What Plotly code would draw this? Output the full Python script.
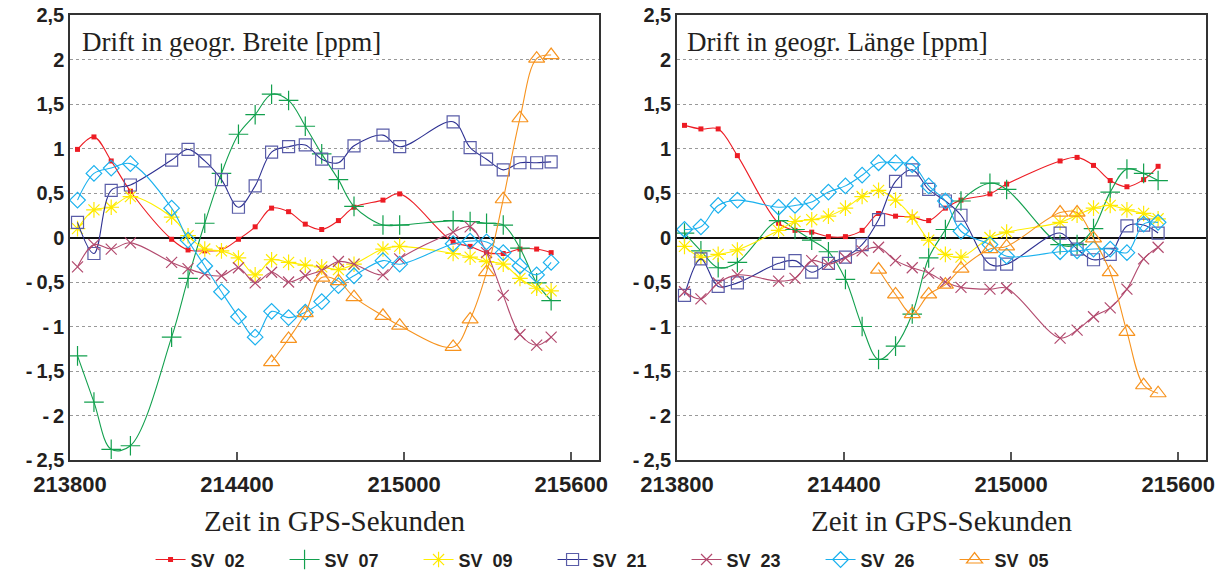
import plotly.graph_objects as go

# GPS epochs (seconds of week) shared by all satellites
t_gps = [213827, 213886, 213948, 214017, 214165, 214224, 214284, 214344, 214405,
         214465, 214524, 214585, 214645, 214704, 214764, 214820, 214924, 214984,
         215176, 215237, 215296, 215356, 215416, 215476, 215528]

N = None
# Drift in latitude [ppm]
lat_sv02 = [0.99, 1.13, 0.86, 0.52, -0.02, -0.14, -0.15, -0.14, -0.02, 0.12, 0.33, 0.29, 0.15,
            0.09, 0.19, 0.34, 0.42, 0.49, -0.05, -0.10, -0.17, -0.18, -0.13, -0.13, -0.17]
lat_sv07 = [-1.33, -1.85, -2.38, -2.34, -1.12, -0.46, 0.16, 0.72, 1.16, 1.38, 1.61, 1.54, 1.25,
            0.94, 0.65, 0.35, 0.14, 0.14, 0.19, 0.18, 0.16, 0.14, -0.12, -0.51, -0.71]
lat_sv09 = [0.10, 0.31, 0.34, 0.46, 0.23, 0.02, -0.13, -0.15, -0.23, -0.42, -0.25, -0.28, -0.31,
            -0.33, -0.36, -0.30, -0.13, -0.10, -0.18, -0.22, -0.27, -0.30, -0.46, -0.57, -0.60]
lat_sv21 = [0.17, -0.18, 0.53, 0.59, 0.87, 0.99, 0.86, 0.65, 0.34, 0.58, 0.96, 1.02, 1.04,
            0.88, 0.84, 1.03, 1.15, 1.02, 1.30, 1.01, 0.88, 0.76, 0.84, 0.84, 0.85]
lat_sv23 = [-0.33, -0.08, -0.13, -0.06, -0.28, -0.35, -0.41, -0.43, -0.34, -0.51, -0.39, -0.50, -0.43,
            -0.37, -0.27, -0.30, -0.42, -0.24, 0.06, 0.12, -0.17, -0.65, -1.09, -1.21, -1.12]
lat_sv26 = [0.42, 0.72, 0.78, 0.83, 0.33, -0.03, -0.32, -0.61, -0.89, -1.12, -0.83, -0.90, -0.84,
            -0.72, -0.54, -0.43, -0.26, -0.30, -0.07, -0.04, -0.05, -0.17, -0.32, -0.42, -0.28]
lat_sv05 = [N, N, N, N, N, N, N, N, N, N, -1.40, -1.14, -0.85,
            -0.45, -0.49, -0.67, -0.88, -0.99, -1.23, -0.92, -0.39, 0.43, 1.34, 2.01, 2.05]

# Drift in longitude [ppm]
lon_sv02 = [1.26, 1.22, 1.22, 0.92, 0.16, 0.08, 0.06, 0.01, 0.01, 0.08, 0.27, 0.24, 0.23,
            0.19, 0.33, 0.42, 0.49, 0.60, 0.86, 0.90, 0.81, 0.64, 0.57, 0.65, 0.80]
lon_sv07 = [0.05, -0.15, -0.34, -0.28, 0.19, 0.09, -0.03, -0.16, -0.47, -1.00, -1.37, -1.22, -0.86,
            -0.23, 0.09, 0.41, 0.61, 0.54, -0.08, -0.08, 0.10, 0.51, 0.77, 0.72, 0.64]
lon_sv09 = [-0.10, -0.22, -0.19, -0.14, 0.08, 0.18, 0.20, 0.24, 0.33, 0.46, 0.53, 0.42, 0.23,
            -0.03, -0.19, -0.22, 0.00, 0.06, 0.17, 0.25, 0.33, 0.36, 0.31, 0.27, 0.21]
lon_sv21 = [-0.65, -0.24, -0.55, -0.51, -0.29, -0.26, -0.39, -0.29, -0.22, -0.08, 0.20, 0.63, 0.76,
            0.54, 0.41, 0.25, -0.30, -0.30, 0.05, -0.13, -0.25, -0.19, 0.13, 0.14, 0.05]
lon_sv23 = [-0.61, -0.69, -0.51, -0.42, -0.49, -0.46, -0.26, -0.30, -0.23, -0.15, -0.11, -0.26, -0.34,
            -0.40, -0.50, -0.56, -0.58, -0.57, -1.13, -1.04, -0.89, -0.79, -0.58, -0.24, -0.11]
lon_sv26 = [0.09, 0.12, 0.36, 0.42, 0.34, 0.36, 0.40, 0.51, 0.58, 0.70, 0.84, 0.84, 0.82,
            0.58, 0.41, 0.07, -0.08, -0.21, -0.16, -0.15, -0.13, -0.13, -0.17, 0.15, 0.17]
lon_sv05 = [N, N, N, N, N, N, N, N, N, N, -0.36, -0.64, -0.86,
            -0.64, -0.53, -0.35, -0.13, -0.10, 0.28, 0.28, -0.01, -0.39, -1.06, -1.66, -1.75]

sat_names = ["SV  02", "SV  07", "SV  09", "SV  21", "SV  23", "SV  26", "SV  05"]
lat_series = [lat_sv02, lat_sv07, lat_sv09, lat_sv21, lat_sv23, lat_sv26, lat_sv05]
lon_series = [lon_sv02, lon_sv07, lon_sv09, lon_sv21, lon_sv23, lon_sv26, lon_sv05]

x_ticks = [213800, 214400, 215000, 215600]
y_ticks = [2.5, 2, 1.5, 1, 0.5, 0, -0.5, -1, -1.5, -2, -2.5]
y_tick_text = ["2,5", "2", "1,5", "1", "0,5", "0", "-\u20090,5", "-\u20091", "-\u20091,5", "-\u20092", "-\u20092,5"]

styles = [
    dict(color="#ED1C24", symbol="square", size=5, filled=True, mcolor="#ED1C24"),
    dict(color="#12A04E", symbol="cross-thin", size=14, filled=False, mcolor="#12A04E"),
    dict(color="#FFEF00", symbol="asterisk", size=13, filled=False, mcolor="#FFEA00"),
    dict(color="#2E3192", symbol="square-open", size=12, filled=False, mcolor="#5A5DA8"),
    dict(color="#B24A6E", symbol="x-thin", size=11, filled=False, mcolor="#B24A6E"),
    dict(color="#1BB1EE", symbol="diamond-open", size=12, filled=False, mcolor="#1BB1EE"),
    dict(color="#F7931E", symbol="triangle-up-open", size=14, filled=False, mcolor="#F7931E"),
]

fig = go.Figure()

for panel, (series, xa, ya) in enumerate([(lat_series, "x", "y"), (lon_series, "x2", "y2")]):
    for name, vals, st in zip(sat_names, series, styles):
        if st["filled"]:
            marker = dict(symbol=st["symbol"], size=st["size"], color=st["mcolor"])
        else:
            marker = dict(symbol=st["symbol"], size=st["size"], color=st["mcolor"],
                          line=dict(color=st["mcolor"], width=1.2))
        fig.add_trace(go.Scatter(
            x=t_gps, y=vals, name=name, mode="lines+markers",
            line=dict(color=st["color"], width=1.1, shape="spline", smoothing=1.0),
            marker=marker, xaxis=xa, yaxis=ya,
            legendgroup=name, showlegend=(panel == 0), connectgaps=False,
        ))

x_tick_font = dict(family="Liberation Sans, Arial, sans-serif", size=22, color="#231F20", weight="bold")
y_tick_font = dict(family="Liberation Sans, Arial, sans-serif", size=20, color="#231F20", weight="bold")
serif = dict(family="Liberation Serif, Times New Roman, serif", size=27, color="#231F20")

xaxis_common = dict(
    range=[213800, 215700], tickvals=x_ticks, ticktext=[str(v) for v in x_ticks],
    ticks="inside", ticklen=8, tickwidth=1.5, tickcolor="#555",
    showgrid=False, showline=True, linecolor="#333", linewidth=1.5, mirror=True,
    tickfont=x_tick_font, zeroline=False, ticklabelstandoff=4,
)
yaxis_common = dict(
    range=[-2.5, 2.5], tickvals=y_ticks, ticktext=y_tick_text, ticks="",
    showgrid=True, gridcolor="#999", griddash="dot", gridwidth=1,
    zeroline=True, zerolinecolor="#111", zerolinewidth=1.6,
    showline=True, linecolor="#333", linewidth=1.5, mirror=True,
    tickfont=y_tick_font,
)

fig.update_layout(
    width=1222, height=573,
    margin=dict(l=70, r=16, t=15, b=113, autoexpand=False),
    paper_bgcolor="white", plot_bgcolor="white",
    xaxis=dict(domain=[0, 0.4657], anchor="y", **xaxis_common),
    yaxis=dict(domain=[0, 1], anchor="x", **yaxis_common),
    xaxis2=dict(domain=[0.5343, 1], anchor="y2", **xaxis_common),
    yaxis2=dict(domain=[0, 1], anchor="x2", **yaxis_common),
    legend=dict(
        orientation="h", xref="container", yref="container",
        x=0.507, xanchor="center", y=0.023, yanchor="middle",
        font=dict(family="Liberation Sans, Arial, sans-serif", size=18, color="#231F20", weight="bold"),
        entrywidth=89, entrywidthmode="pixels", bgcolor="rgba(0,0,0,0)",
    ),
    showlegend=True,
)

# Panel titles
fig.add_annotation(text="Drift in geogr. Breite [ppm]", xref="x domain", yref="y domain",
                   x=0.018, y=0.94, xanchor="left", yanchor="middle", showarrow=False, font=serif)
fig.add_annotation(text="Drift in geogr. Länge [ppm]", xref="x2 domain", yref="y2 domain",
                   x=0.016, y=0.94, xanchor="left", yanchor="middle", showarrow=False, font=serif)

# Axis titles below each panel
for xref in ["x domain", "x2 domain"]:
    fig.add_annotation(text="Zeit in GPS-Sekunden", xref=xref, yref="paper",
                       x=0.5, y=-0.137, xanchor="center", yanchor="middle", showarrow=False,
                       font=dict(family="Liberation Serif, Times New Roman, serif", size=29, color="#231F20"))

fig.write_html("out.html")
